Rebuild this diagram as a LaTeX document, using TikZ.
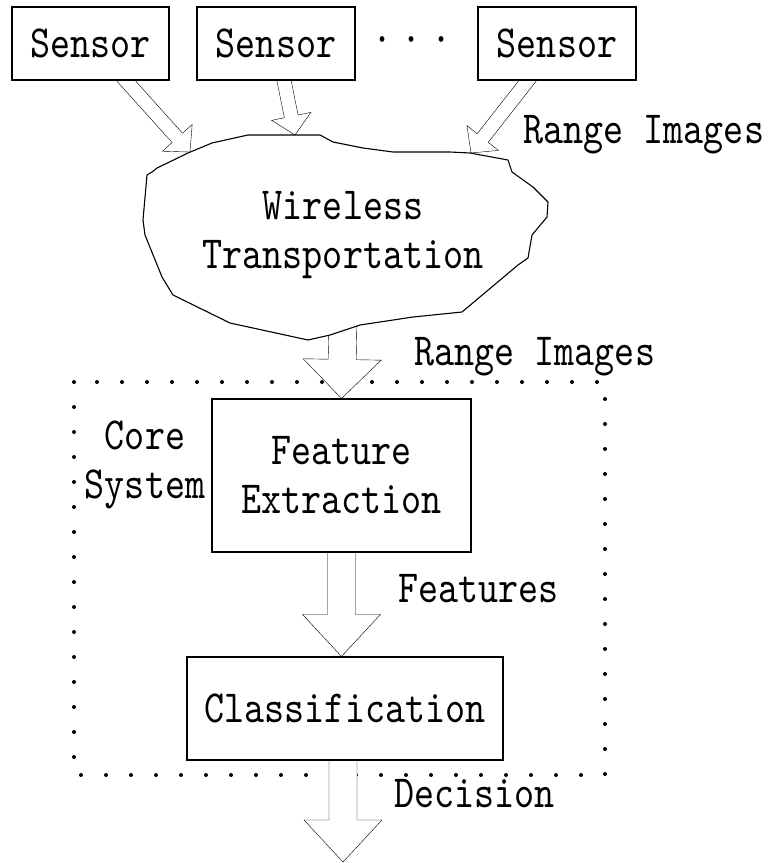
\documentclass[tikz,border=0pt]{standalone}
\usepackage{fontspec}
\setmainfont{lmmono10-regular.otf}[FakeStretch=0.83]
\usetikzlibrary{calc}
\pgfdeclarelayer{bg}
\pgfsetlayers{bg,main}
%% block arrow: from, to, half shaft, half head, head length
\newcommand{\fatarrow}[5]{%
  \coordinate (fa-h) at ($(#2)!#5!(#1)$);
  \draw[fill=white] ($(#1)!#3!90:(#2)$) -- ($(fa-h)!#3!-90:(#1)$) -- ($(fa-h)!#4!-90:(#1)$)
    -- (#2) -- ($(fa-h)!#4!90:(#1)$) -- ($(fa-h)!#3!90:(#1)$) -- ($(#1)!#3!-90:(#2)$) -- cycle;}

\begin{document}
\begin{tikzpicture}[x=1pt,y=-1pt,line width=1.1pt,
  every node/.style={font=\fontsize{46}{49}\selectfont,inner sep=0pt},
  box/.style={draw,fill=white,align=center}]
\useasboundingbox (0,0) rectangle (772,863);
%% sensors
\node[box,minimum width=157pt,minimum height=73pt] (s1) at (90.5,43.5) {Sensor};
\node[box,minimum width=158pt,minimum height=73pt] (s2) at (276,43.5) {Sensor};
\node (dots) at (412,45) {·\hspace{9pt}·\hspace{9pt}·};
\node[box,minimum width=158pt,minimum height=73pt] (s3) at (557,43.5) {Sensor};
%% the cloud
\draw[fill=white,line join=round] (152,172) -- (157,168) -- (188,153) -- (212,143) -- (248,135)
  -- (320,135) -- (333,142) -- (363,148) -- (393,152) -- (450,152) -- (470,153) -- (508,160)
  -- (512,172) -- (533,187) -- (548,202) -- (547,217) -- (532,235) -- (528,258) -- (518,265)
  -- (462,312) -- (413,317) -- (360,325) -- (330,335) -- (308,340) -- (230,323) -- (173,295)
  -- (162,277) -- (145,235) -- (143,220) -- (147,175) -- cycle;
\node[align=center] (wt) at (343,235) {Wireless\\Transportation};
\coordinate (w1) at (190,152);
\coordinate (w2) at (295,135);
\coordinate (w3) at (471,153);
%% core system
\node[box,minimum width=259pt,minimum height=153pt] (fe) at (341.5,475.5) {Feature\\Extraction};
\node[box,minimum width=316pt,minimum height=103pt] (cl) at (345,708.5) {Classification};
\node[align=center] (core) at (145,465) {Core\\System};
\coordinate (dec) at (343,862);
%% labels
\node[anchor=base west] (ri1) at (523,143) {Range Images};
\node[anchor=base west] (ri2) at (414,365) {Range Images};
\node[anchor=base west] (ft) at (398,602) {Features};
\node[anchor=base west] (dc) at (394,807) {Decision};
\begin{pgfonlayer}{bg}
%% dotted frame
\draw[line width=4pt,line cap=round,dash pattern=on 0pt off 25pt] (74,382) rectangle (605,775);
%% the arrows
\fatarrow{$(s1.south)+(29,-7)$}{w1}{7pt}{20pt}{19pt}
\fatarrow{$(s2.south)+(6,-10)$}{w2}{7pt}{20pt}{19pt}
\fatarrow{$(s3.south)+(-23,-8)$}{w3}{7pt}{20pt}{19pt}
\fatarrow{$(wt)+(0,80)$}{fe.north}{14pt}{39pt}{39pt}
\fatarrow{fe.south}{fe.south |- cl.north}{14pt}{39pt}{42pt}
\fatarrow{cl.south -| dec}{dec}{14pt}{39pt}{42pt}
\end{pgfonlayer}
\end{tikzpicture}
\end{document}
